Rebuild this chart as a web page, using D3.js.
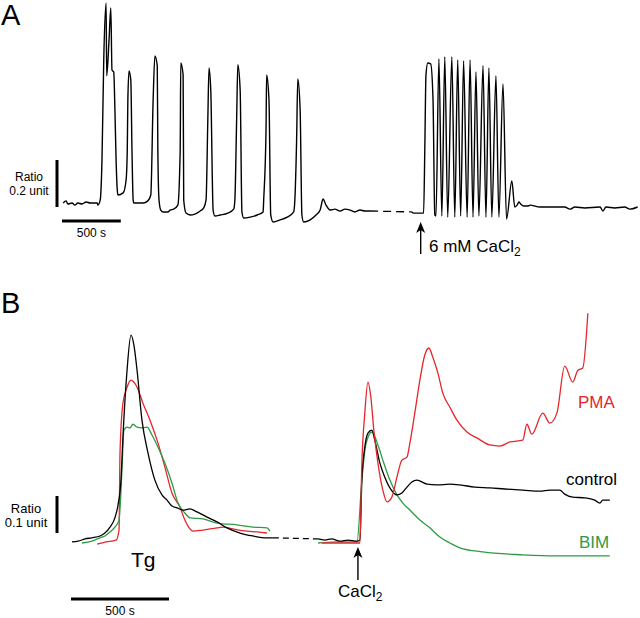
<!DOCTYPE html>
<html>
<head>
<meta charset="utf-8">
<script src="https://cdn.jsdelivr.net/npm/d3@7"></script>
<style>
body { margin: 0; background: #fff; }
text { font-family: Arial, "Liberation Sans", sans-serif; fill: #000; }
</style>
</head>
<body>
<script>
// panel A: one cell, [time (s), ratio]
var traceA1 = [[10,0.500],[35,0.509],[50,0.496],[85,0.500],[110,0.491],[135,0.500],[170,0.496],[205,0.504],[240,0.500],[300,0.500],[305,0.491],
  [325,0.513],[340,0.683],[355,1.109],[375,1.351],[380,1.041],[400,1.194],[415,1.330],[425,1.066],[440,1.057],[450,0.896],[460,0.683],
  [470,0.555],[475,0.534],[520,0.543],[545,0.598],[555,0.726],[560,0.939],[570,1.062],[585,1.024],[595,0.726],[605,0.513],[610,0.500],
  [690,0.500],[730,0.509],[755,0.534],[775,0.939],[790,1.126],[810,1.084],[815,0.726],[825,0.513],[840,0.470],[860,0.462],[900,0.462],
  [920,0.470],[950,0.474],[985,0.491],[1005,0.726],[1010,1.096],[1030,1.045],[1035,0.513],[1055,0.457],[1090,0.449],[1130,0.453],
  [1175,0.466],[1205,0.479],[1225,0.513],[1240,0.854],[1250,1.075],[1265,0.981],[1285,0.470],[1300,0.445],[1345,0.449],[1410,0.457],
  [1460,0.474],[1470,0.513],[1485,0.854],[1495,1.088],[1515,0.981],[1530,0.462],[1545,0.436],[1600,0.440],[1660,0.449],[1710,0.462],
  [1715,0.513],[1735,0.811],[1740,1.045],[1760,0.939],[1775,0.449],[1795,0.419],[1855,0.428],[1915,0.440],[1970,0.462],[1980,0.513],
  [1995,0.768],[2005,1.028],[2025,0.896],[2040,0.449],[2055,0.419],[2110,0.428],[2160,0.449],[2195,0.470],[2220,0.517],[2245,0.491],
  [2280,0.470],[2320,0.474],[2365,0.466],[2405,0.474],[2450,0.470],[2490,0.462],[2535,0.470],[2575,0.466],[2620,0.466]];
var gapA = [[2620,0.466],[2975,0.462]];
var traceA2 = [[2975,0.462],[2990,0.457],[3075,0.457],[3085,0.726],[3095,1.045],[3110,1.096],[3135,1.092],[3155,0.939],[3170,0.449],
  [3180,0.445],[3205,1.113],[3230,0.445],[3255,1.122],[3280,0.440],[3315,1.122],[3340,0.440],[3365,1.109],[3390,0.445],[3415,1.105],
  [3445,0.440],[3470,1.109],[3495,0.440],[3520,1.058],[3545,0.445],[3580,1.084],[3605,0.440],[3630,1.075],[3655,0.440],[3690,1.041],
  [3715,0.440],[3750,1.007],[3780,0.432],[3825,0.594],[3850,0.483],[3870,0.491],[3885,0.504],[3900,0.496],[3925,0.487],[3960,0.487],
  [3980,0.491],[4065,0.483],[4150,0.483],[4275,0.483],[4320,0.474],[4360,0.483],[4445,0.479],[4575,0.483],[4600,0.466],[4625,0.483],
  [4700,0.479],[4785,0.483],[4830,0.474],[4895,0.483]];

// panel B: averaged traces, [time (s), ratio]
var tgBlack = [[5,0.503],[36,0.505],[71,0.511],[107,0.514],[148,0.519],[173,0.527],[199,0.543],[224,0.568],[240,0.603],[255,0.670],
  [265,0.786],[286,0.967],[306,1.062],[321,1.035],[337,0.967],[362,0.832],[393,0.743],[428,0.670],[464,0.630],[490,0.616],[515,0.600],
  [541,0.595],[571,0.589],[607,0.592],[643,0.584],[694,0.570],[745,0.557],[796,0.541],[862,0.527],[928,0.519],[1000,0.514],[1030,0.514]];
var tgRed = [[133,0.497],[179,0.503],[230,0.508],[245,0.535],[250,0.743],[265,0.878],[286,0.921],[306,0.940],[337,0.921],[367,0.878],
  [403,0.832],[444,0.770],[479,0.705],[515,0.635],[556,0.597],[581,0.562],[607,0.538],[622,0.532],[673,0.535],[745,0.541],[775,0.543],
  [826,0.538],[898,0.532],[949,0.530],[1000,0.527]];
var tgGreen = [[56,0.500],[107,0.505],[148,0.514],[173,0.519],[199,0.530],[224,0.543],[245,0.562],[260,0.697],[270,0.805],[286,0.813],
  [301,0.811],[316,0.821],[337,0.813],[362,0.811],[388,0.813],[413,0.792],[444,0.759],[479,0.716],[515,0.662],[546,0.608],[581,0.581],
  [607,0.568],[673,0.565],[745,0.554],[847,0.549],[928,0.543],[1000,0.541],[1015,0.532]];
var gapB = [[1030,0.514],[1260,0.511]];
var caBlack = [[1260,0.511],[1295,0.508],[1331,0.511],[1372,0.505],[1413,0.508],[1459,0.505],[1474,0.508],[1484,0.670],[1499,0.759],
  [1515,0.797],[1535,0.805],[1550,0.778],[1576,0.716],[1601,0.678],[1627,0.649],[1663,0.630],[1688,0.635],[1714,0.651],[1739,0.665],
  [1765,0.670],[1816,0.659],[1867,0.657],[1933,0.659],[1984,0.657],[2060,0.651],[2137,0.649],[2213,0.646],[2305,0.643],[2392,0.640],
  [2443,0.643],[2494,0.643],[2519,0.632],[2560,0.624],[2621,0.622],[2672,0.616],[2698,0.608],[2713,0.616],[2749,0.616]];
var caRed = [[1280,0.500],[1372,0.500],[1474,0.500],[1484,0.716],[1499,0.851],[1515,0.935],[1530,0.894],[1545,0.805],[1566,0.716],
  [1591,0.643],[1612,0.611],[1637,0.624],[1663,0.678],[1688,0.724],[1714,0.732],[1729,0.770],[1754,0.851],[1780,0.940],[1805,1.008],
  [1826,1.027],[1846,1.002],[1872,0.959],[1897,0.905],[1933,0.867],[1969,0.832],[2020,0.800],[2071,0.784],[2137,0.765],[2188,0.762],
  [2239,0.773],[2305,0.778],[2326,0.821],[2351,0.794],[2407,0.851],[2443,0.824],[2479,0.851],[2519,0.978],[2560,0.935],[2586,0.967],
  [2611,0.973],[2637,1.121]];
var caGreen = [[1260,0.500],[1372,0.503],[1459,0.503],[1484,0.670],[1504,0.765],[1535,0.800],[1566,0.765],[1591,0.724],[1627,0.670],
  [1663,0.630],[1693,0.608],[1729,0.589],[1780,0.562],[1831,0.541],[1882,0.516],[1933,0.500],[1984,0.487],[2101,0.476],[2305,0.468],
  [2479,0.465],[2749,0.465]];

// labels
var seriesNames = ["PMA", "control", "BIM"];
var seriesColors = ["#e5262b", "#000000", "#2f9a45"];
var barLabelsA = ["Ratio", "0.2 unit", "500 s"];
var barLabelsB = ["Ratio", "0.1 unit", "500 s"];

var width = 640, height = 618;

var svg = d3.select("body")
            .append("svg")
            .attr("width", width)
            .attr("height", height);

// scales
var xA = d3.scaleLinear().domain([0, 500]).range([62, 120.8]);
var yA = d3.scaleLinear().domain([0.5, 0.7]).range([203, 156]);
var xB = d3.scaleLinear().domain([0, 500]).range([71, 169]);
var yB = d3.scaleLinear().domain([0.5, 0.6]).range([543, 506]);

var lineA = d3.line()
              .x(function(d) { return xA(d[0]); })
              .y(function(d) { return yA(d[1]); })
              .curve(d3.curveMonotoneX);
var lineB = d3.line()
              .x(function(d) { return xB(d[0]); })
              .y(function(d) { return yB(d[1]); })
              .curve(d3.curveMonotoneX);

// panel letters
svg.append("text").attr("x", 1).attr("y", 25).style("font-size", "29px").text("A");
svg.append("text").attr("x", 1).attr("y", 313).style("font-size", "29px").text("B");

// --- panel A traces
[traceA1, traceA2].forEach(function(tr) {
    svg.append("path")
       .attr("d", lineA(tr))
       .attr("fill", "none")
       .attr("stroke", "#000")
       .attr("stroke-width", 1.4);
});
svg.append("path")
   .attr("d", lineA(gapA))
   .attr("fill", "none")
   .attr("stroke", "#000")
   .attr("stroke-width", 1.3)
   .attr("stroke-dasharray", "8,5");

// scale bars A
svg.append("line").attr("x1", 57).attr("x2", 57)
   .attr("y1", yA(0.483)).attr("y2", yA(0.683))
   .attr("stroke", "#000").attr("stroke-width", 3);
svg.append("line").attr("x1", xA(0)).attr("x2", xA(500))
   .attr("y1", 221).attr("y2", 221)
   .attr("stroke", "#000").attr("stroke-width", 3);
svg.append("text").attr("x", 29).attr("y", 181).attr("text-anchor", "middle")
   .style("font-size", "12px").text(barLabelsA[0]);
svg.append("text").attr("x", 29).attr("y", 195).attr("text-anchor", "middle")
   .style("font-size", "12px").text(barLabelsA[1]);
svg.append("text").attr("x", (xA(0) + xA(500)) / 2).attr("y", 237).attr("text-anchor", "middle")
   .style("font-size", "12px").text(barLabelsA[2]);

// arrow helper
function arrow(x, yTip, yEnd) {
    svg.append("line").attr("x1", x).attr("x2", x)
       .attr("y1", yTip + 6).attr("y2", yEnd)
       .attr("stroke", "#000").attr("stroke-width", 1.4);
    svg.append("path")
       .attr("d", "M" + x + "," + yTip + "L" + (x - 4.5) + "," + (yTip + 11) +
             "L" + x + "," + (yTip + 8) + "L" + (x + 4.5) + "," + (yTip + 11) + "Z")
       .attr("fill", "#000");
}

// CaCl2 arrow A
arrow(xA(3050), 222, 254);
var tA = svg.append("text").attr("x", 429).attr("y", 252).style("font-size", "17px");
tA.append("tspan").text("6 mM CaCl");
tA.append("tspan").attr("dy", 4).style("font-size", "12px").text("2");

// --- panel B traces
var tgSet = [tgRed, tgGreen, tgBlack];
var caSet = [caGreen, caBlack, caRed];
var tgCol = [seriesColors[0], seriesColors[2], seriesColors[1]];
var caCol = [seriesColors[2], seriesColors[1], seriesColors[0]];

svg.append("path")
   .attr("d", lineB(gapB))
   .attr("fill", "none")
   .attr("stroke", "#000")
   .attr("stroke-width", 1.3)
   .attr("stroke-dasharray", "6,4");

tgSet.forEach(function(tr, i) {
    svg.append("path").attr("d", lineB(tr)).attr("fill", "none")
       .attr("stroke", tgCol[i]).attr("stroke-width", 1.3);
});
caSet.forEach(function(tr, i) {
    svg.append("path").attr("d", lineB(tr)).attr("fill", "none")
       .attr("stroke", caCol[i]).attr("stroke-width", 1.3);
});

// scale bars B
svg.append("line").attr("x1", 57).attr("x2", 57)
   .attr("y1", yB(0.527)).attr("y2", yB(0.627))
   .attr("stroke", "#000").attr("stroke-width", 3);
svg.append("line").attr("x1", xB(0)).attr("x2", xB(500))
   .attr("y1", 599).attr("y2", 599)
   .attr("stroke", "#000").attr("stroke-width", 3);
svg.append("text").attr("x", 26).attr("y", 513).attr("text-anchor", "middle")
   .style("font-size", "13px").text(barLabelsB[0]);
svg.append("text").attr("x", 26).attr("y", 527).attr("text-anchor", "middle")
   .style("font-size", "13px").text(barLabelsB[1]);
svg.append("text").attr("x", (xB(0) + xB(500)) / 2).attr("y", 615).attr("text-anchor", "middle")
   .style("font-size", "12px").text(barLabelsB[2]);

// Tg label
svg.append("text").attr("x", 131).attr("y", 567).style("font-size", "21px").text("Tg");

// CaCl2 arrow B
arrow(xB(1464), 547, 580);
var tB = svg.append("text").attr("x", 338).attr("y", 597).style("font-size", "17px");
tB.append("tspan").text("CaCl");
tB.append("tspan").attr("dy", 4).style("font-size", "12px").text("2");

// series labels
var labelPos = [[578, 408], [566, 485], [579, 548]];
seriesNames.forEach(function(n, i) {
    svg.append("text")
       .attr("x", labelPos[i][0]).attr("y", labelPos[i][1])
       .style("font-size", "17px")
       .style("fill", seriesColors[i])
       .text(n);
});
</script>
</body>
</html>
